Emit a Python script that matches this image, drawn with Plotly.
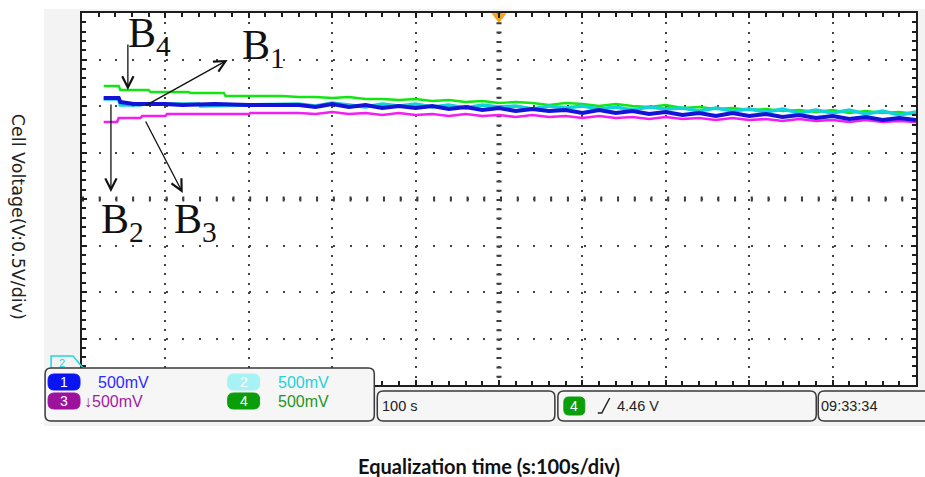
import plotly.graph_objects as go

# ---------------- data (time in s, cell voltage in V) ----------------
noise_t = [260, 280, 300, 320, 340, 360, 380, 400, 420, 440, 460, 480, 500, 520,
           540, 560, 580, 600, 620, 640, 660, 680, 700, 720, 740, 760, 780, 800,
           820, 840, 860, 880, 900, 920, 940, 960, 980, 1000]

b1_t_start = [26, 44, 46, 60, 62, 100, 120, 160, 200, 240]
b1_v_start = [4.086, 4.086, 4.043, 4.032, 4.022, 4.022, 4.011, 4.022, 4.011, 4.011]
b1_v_noise = [4.011, 3.989, 4.022, 3.989, 4.011, 3.978, 4.000, 3.978, 4.000, 3.968,
              3.989, 3.957, 3.978, 3.946, 3.968, 3.946, 3.957, 3.925, 3.957, 3.925,
              3.946, 3.914, 3.935, 3.903, 3.925, 3.892, 3.925, 3.892, 3.914, 3.882,
              3.903, 3.871, 3.892, 3.860, 3.882, 3.849, 3.871, 3.849]

b2_t_start = [26, 44, 46, 70, 72, 140, 142, 240]
b2_v_start = [4.075, 4.075, 4.011, 4.011, 4.022, 4.022, 4.000, 4.011]
b2_v_noise = [4.022, 4.000, 4.032, 4.011, 3.989, 4.022, 4.000, 4.022, 3.989, 4.011,
              3.978, 4.011, 3.989, 4.000, 3.968, 4.000, 3.978, 4.000, 3.968, 3.989,
              3.957, 3.989, 3.968, 3.978, 3.946, 3.978, 3.946, 3.968, 3.935, 3.968,
              3.925, 3.957, 3.925, 3.957, 3.914, 3.946, 3.903, 3.935]

b3_t_start = [26, 42, 44, 70, 72, 100, 102, 200, 202, 240]
b3_v_start = [3.828, 3.828, 3.871, 3.871, 3.892, 3.892, 3.914, 3.914, 3.925, 3.925]
b3_v_noise = [3.925, 3.914, 3.935, 3.914, 3.925, 3.903, 3.925, 3.903, 3.914, 3.892,
              3.914, 3.892, 3.903, 3.882, 3.903, 3.882, 3.892, 3.871, 3.892, 3.871,
              3.882, 3.860, 3.882, 3.860, 3.871, 3.849, 3.871, 3.849, 3.860, 3.839,
              3.860, 3.839, 3.849, 3.828, 3.849, 3.828, 3.839, 3.828]

b4_t_start = [26, 44, 46, 80, 82, 128, 130, 170, 172, 240]
b4_v_start = [4.215, 4.215, 4.172, 4.172, 4.151, 4.151, 4.140, 4.140, 4.108, 4.108]
b4_v_noise = [4.097, 4.097, 4.086, 4.097, 4.075, 4.075, 4.065, 4.075, 4.054, 4.065,
              4.043, 4.054, 4.032, 4.043, 4.032, 4.011, 4.032, 4.022, 4.000, 4.022,
              4.000, 3.989, 4.011, 3.978, 3.989, 3.968, 3.978, 3.957, 3.968, 3.946,
              3.957, 3.935, 3.957, 3.925, 3.946, 3.925, 3.935, 3.914]

trigger_time = 500
trigger_marker_v = 4.962

channel_labels = ["1", "2", "3", "4"]
channel_scale = ["500mV", "500mV", "<b>\u2193</b>500mV", "500mV"]
timebase_text = "100 s"
trigger_text = "4.46 V"
clock_text = "09:33:34"

# arrows: (label, tail_t, tail_v, tip_t, tip_v)
arrows = [
    ("B4", 55.0, 4.677, 55.0, 4.172),
    ("B1", 75.4, 4.000, 174.6, 4.495),
    ("B2", 34.7, 4.032, 34.7, 3.075),
    ("B3", 75.4, 3.849, 120.8, 3.065),
]

# ---------------- layout helpers ----------------
W, H = 925, 477
L, R, T, B = 82, 918, 13, 385


def px(x):
    return (x - L) / (R - L)


def py(y):
    return (B - y) / (B - T)


def rrect(x0, y0, x1, y1, r):
    return (f"M{px(x0 + r)},{py(y0)} L{px(x1 - r)},{py(y0)} "
            f"Q{px(x1)},{py(y0)} {px(x1)},{py(y0 + r)} L{px(x1)},{py(y1 - r)} "
            f"Q{px(x1)},{py(y1)} {px(x1 - r)},{py(y1)} L{px(x0 + r)},{py(y1)} "
            f"Q{px(x0)},{py(y1)} {px(x0)},{py(y1 - r)} L{px(x0)},{py(y0 + r)} "
            f"Q{px(x0)},{py(y0)} {px(x0 + r)},{py(y0)} Z")


fig = go.Figure()

colors = {"B1": "#1414d8", "B2": "#10d2d8", "B3": "#f21ef2", "B4": "#12e612"}

fig.add_trace(go.Scatter(x=b4_t_start + noise_t, y=b4_v_start + b4_v_noise, mode="lines",
                         line=dict(color=colors["B4"], width=2.4), showlegend=False))
fig.add_trace(go.Scatter(x=b3_t_start + noise_t, y=b3_v_start + b3_v_noise, mode="lines",
                         line=dict(color=colors["B3"], width=2.6), showlegend=False))
fig.add_trace(go.Scatter(x=b2_t_start + noise_t, y=b2_v_start + b2_v_noise, mode="lines",
                         line=dict(color=colors["B2"], width=3.6), showlegend=False))
fig.add_trace(go.Scatter(x=b1_t_start + noise_t, y=b1_v_start + b1_v_noise, mode="lines",
                         line=dict(color=colors["B1"], width=4), showlegend=False))

# trigger marker at top
fig.add_trace(go.Scatter(x=[trigger_time], y=[trigger_marker_v], mode="markers",
                         marker=dict(symbol="triangle-down", size=13, color="#f5a21c"),
                         cliponaxis=False, showlegend=False, hoverinfo="skip"))

shapes = []
# scope screen background and white graticule area
shapes.append(dict(type="rect", xref="paper", yref="paper", x0=px(44), x1=px(930),
                   y0=py(426), y1=py(9), fillcolor="#f3f3f3", line_width=0, layer="below"))
shapes.append(dict(type="rect", xref="paper", yref="paper", x0=0, x1=1, y0=0, y1=1,
                   fillcolor="white", line_width=0, layer="below"))
# center graticule tick lines
shapes.append(dict(type="line", xref="x", yref="paper", x0=500, x1=500, y0=1, y1=0,
                   line=dict(color="#333", width=5, dash="2px,7.3px"), layer="below"))
shapes.append(dict(type="line", xref="paper", yref="y", x0=0, x1=1, y0=3.0, y1=3.0,
                   line=dict(color="#333", width=5, dash="2px,14.72px"), layer="below"))
# channel 2 ground marker
shapes.append(dict(type="path", xref="paper", yref="paper",
                   path=f"M{px(51)},{py(369)} L{px(51)},{py(356)} L{px(73)},{py(356)} L{px(83)},{py(368)}",
                   line=dict(color="#22d6e0", width=1.5)))
# info boxes
for (x0, y0, x1, y1) in [(45, 368, 375, 421), (378, 391, 556, 421),
                         (559, 391, 818, 421), (820, 391, 935, 421)]:
    shapes.append(dict(type="path", xref="paper", yref="paper", path=rrect(x0, y0, x1, y1, 6),
                       fillcolor="#f6f6f6", line=dict(color="#3a3a3a", width=1.5)))
# channel badges
badge_fill = ["#0a14f0", "#a6f2f4", "#9c129c", "#0a9e0a"]
badge_pos = [(48, 374, 80, 390), (228, 374, 260, 390), (48, 393, 80, 409), (228, 393, 260, 409)]
for (x0, y0, x1, y1), c in zip(badge_pos, badge_fill):
    shapes.append(dict(type="path", xref="paper", yref="paper", path=rrect(x0, y0, x1, y1, 6),
                       fillcolor=c, line=dict(color=c, width=1)))
# trigger badge
shapes.append(dict(type="path", xref="paper", yref="paper", path=rrect(565, 397, 586, 415, 5),
                   fillcolor="#0a9e0a", line=dict(color="#0a9e0a", width=1)))
# rising edge symbol
shapes.append(dict(type="path", xref="paper", yref="paper",
                   path=f"M{px(599)},{py(413)} L{px(603)},{py(413)} L{px(611)},{py(398)}",
                   line=dict(color="#222", width=1.5)))

annotations = []
sans = "Liberation Sans, Arial, sans-serif"


def txt(x, y, s, size=14, color="#222", xanchor="center", family=sans, **kw):
    annotations.append(dict(xref="paper", yref="paper", x=px(x), y=py(y), text=s,
                            showarrow=False, xanchor=xanchor, yanchor="middle",
                            font=dict(family=family, size=size, color=color), **kw))


# badge labels and scales
txt(64, 382, channel_labels[0], 14, "white")
txt(244, 382, channel_labels[1], 14, "white")
txt(64, 401, channel_labels[2], 14, "white")
txt(244, 401, channel_labels[3], 14, "white")
txt(96, 382, channel_scale[0], 16, "#2b2bff", "left")
txt(276, 382, channel_scale[1], 16, "#22d2dc", "left")
txt(82, 401, channel_scale[2], 16, "#a11ca1", "left")
txt(276, 401, channel_scale[3], 16, "#1f951f", "left")
txt(62, 363, "2", 11, "#22d6e0")
txt(381, 406, timebase_text, 14.5, "#222", "left")
txt(575.5, 406, "4", 14, "white")
txt(616, 406, trigger_text, 14.5, "#222", "left")
txt(821, 406, clock_text, 14.5, "#222", "left")

# axis titles
txt(18, 217, "Cell Voltage(V:0.5V/div)", 17.5, "#222", textangle=90,
    family="DejaVu Sans, Liberation Sans, sans-serif")
txt(490, 466, "<b>Equalization time (s:100s/div)</b>", 20, "#111",
    family="Lato, Open Sans, sans-serif")

# arrows and battery labels
for name, tt, tv, ht, hv in arrows:
    annotations.append(dict(x=ht, y=hv, ax=tt, ay=tv, xref="x", yref="y", axref="x", ayref="y",
                            text="", showarrow=True, arrowhead=5, arrowsize=1.7,
                            arrowwidth=1.3, arrowcolor="#111", standoff=0))

label_pos = {"B4": (126, 36), "B1": (240, 48), "B2": (99, 222), "B3": (172, 222)}
for name, (lx, ly) in label_pos.items():
    txt(lx, ly, f"B<sub>{name[1]}</sub>", 42, "#111", "left",
        family="Liberation Serif, Times New Roman, serif")

fig.update_layout(
    width=W, height=H,
    margin=dict(l=L, r=W - R, t=T, b=H - B),
    paper_bgcolor="white", plot_bgcolor="white",
    shapes=shapes, annotations=annotations,
    showlegend=False,
    xaxis=dict(range=[0, 1000], tick0=0, dtick=100, showgrid=True, gridcolor="#444",
               gridwidth=2, griddash="2px,7.3px", zeroline=False,
               showline=True, linecolor="#1e1e1e", linewidth=2, mirror="ticks",
               ticks="inside", ticklen=5, tickwidth=1.6, tickcolor="#1e1e1e",
               minor=dict(dtick=20, ticks="inside", ticklen=4, tickwidth=1.6,
                          tickcolor="#1e1e1e", showgrid=False),
               showticklabels=False, fixedrange=True),
    yaxis=dict(range=[1, 5], tick0=1, dtick=0.5, showgrid=True, gridcolor="#444",
               gridwidth=2, griddash="2px,14.72px", zeroline=False,
               showline=True, linecolor="#1e1e1e", linewidth=2, mirror="ticks",
               ticks="inside", ticklen=5, tickwidth=1.6, tickcolor="#1e1e1e",
               minor=dict(dtick=0.1, ticks="inside", ticklen=4, tickwidth=1.6,
                          tickcolor="#1e1e1e", showgrid=False),
               showticklabels=False, fixedrange=True),
)

fig.write_html("out.html", config={"displayModeBar": False},
               post_script="document.body.style.margin='0px';")
